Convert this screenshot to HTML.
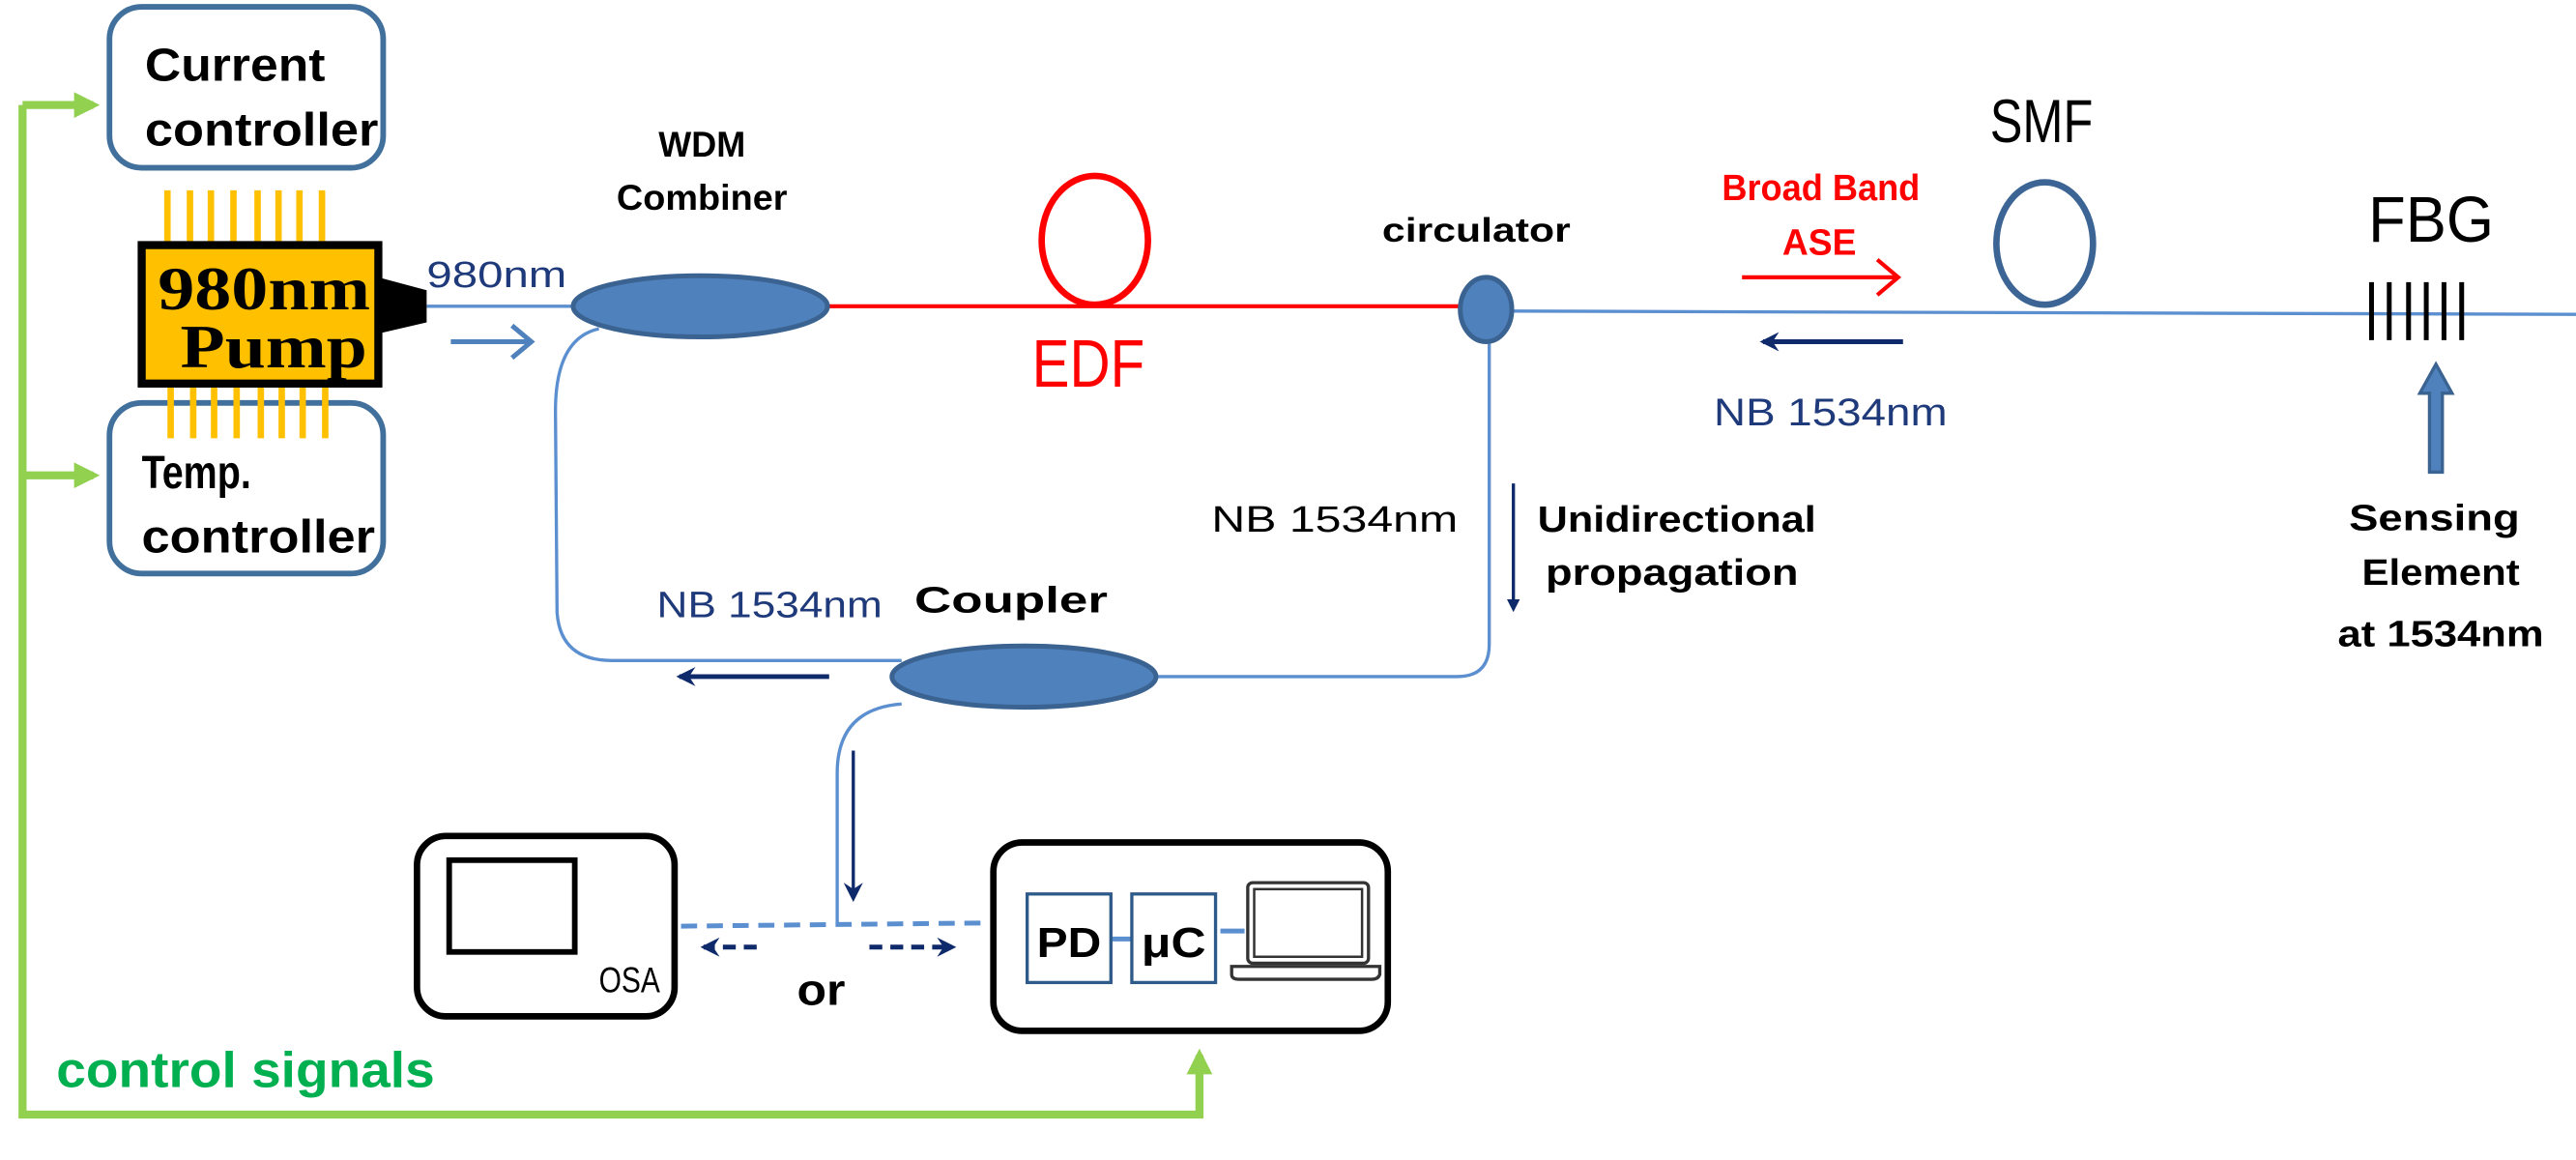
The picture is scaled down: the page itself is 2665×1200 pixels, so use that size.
<!DOCTYPE html>
<html><head><meta charset="utf-8"><style>
html,body{margin:0;padding:0;background:#fff;}
svg{display:block;}
text{font-family:"Liberation Sans",sans-serif;}
</style></head><body>
<svg width="2665" height="1200" viewBox="0 0 1600 720" xmlns="http://www.w3.org/2000/svg">
<defs>
<marker id="nv" markerWidth="8" markerHeight="8" refX="6" refY="4" orient="auto" markerUnits="userSpaceOnUse"><path d="M0,0 L8,4 L0,8 Z" fill="#0f2a6b"/></marker>
<marker id="nvb" markerWidth="12" markerHeight="12" refX="10" refY="6" orient="auto" markerUnits="userSpaceOnUse"><path d="M0,0 L12,6 L0,12 L4,6 Z" fill="#0f2a6b"/></marker>
<marker id="gr" markerWidth="16" markerHeight="16" refX="12" refY="8" orient="auto" markerUnits="userSpaceOnUse"><path d="M0,0 L16,8 L0,16 Z" fill="#92d050"/></marker>
</defs>
<g stroke="#92d050" stroke-width="5" fill="none">
<path d="M14,65 L14,692 L745,692 L745,655" marker-end="url(#gr)"/>
<path d="M14,65 L58,65" marker-end="url(#gr)"/>
<path d="M14,295 L58,295" marker-end="url(#gr)"/>
</g>
<text x="35" y="675" font-size="31" font-weight="bold" fill="#00b050" textLength="235" lengthAdjust="spacingAndGlyphs">control signals</text>
<rect x="68" y="4" width="170" height="100" rx="20" fill="#fff" stroke="#41709c" stroke-width="3.5"/>
<text x="90" y="50" font-size="29" font-weight="bold" textLength="112" lengthAdjust="spacingAndGlyphs">Current</text>
<text x="90" y="90" font-size="29" font-weight="bold" textLength="145" lengthAdjust="spacingAndGlyphs">controller</text>
<rect x="68" y="250" width="170" height="106" rx="20" fill="#fff" stroke="#41709c" stroke-width="3.5"/>
<text x="88" y="303" font-size="29" font-weight="bold" textLength="68" lengthAdjust="spacingAndGlyphs">Temp.</text>
<text x="88" y="343" font-size="29" font-weight="bold" textLength="145" lengthAdjust="spacingAndGlyphs">controller</text>
<g stroke="#ffc000" stroke-width="4">
<path d="M104,118V150M118,118V150M131,118V150M145,118V150M160,118V150M173,118V150M186,118V150M200,118V150"/>
<path d="M106,240V272M120,240V272M133,240V272M147,240V272M162,240V272M175,240V272M188,240V272M202,240V272"/>
</g>
<rect x="88" y="152" width="147" height="86" fill="#ffc000" stroke="#000" stroke-width="5"/>
<path d="M235,172 L265,180 L265,200 L235,207 Z" fill="#000"/>
<text x="98" y="192" font-size="38" font-weight="bold" textLength="132" lengthAdjust="spacingAndGlyphs" style="font-family:'Liberation Serif',serif">980nm</text>
<text x="112" y="228" font-size="38" font-weight="bold" textLength="116" lengthAdjust="spacingAndGlyphs" style="font-family:'Liberation Serif',serif">Pump</text>
<text x="265" y="178" font-size="23" fill="#1f3a7a" textLength="87" lengthAdjust="spacingAndGlyphs">980nm</text>
<path d="M280,212 L328,212" stroke="#4f81bd" stroke-width="3"/>
<path d="M318,202 L330,212 L318,222" stroke="#4f81bd" stroke-width="3" fill="none"/>
<g stroke="#5b8fd0" stroke-width="2" fill="none">
<path d="M265,190 L360,190"/>
<path d="M372,204 Q345,210 345,255 L346,380 Q348,410 380,410 L560,410"/>
<path d="M925,205 L925,400 Q925,420 905,420 L715,420"/>
<path d="M560,437 Q520,440 520,480 L520,575"/>
<path d="M940,193 L1600,195"/>
<path d="M758,578 L773,578" stroke-width="3"/>
<path d="M690,583 L703,583" stroke-width="3"/>
</g>
<path d="M423,575 L612,573" stroke="#5b8fd0" stroke-width="3" stroke-dasharray="10,6" fill="none"/>
<path d="M515,190 L906,190" stroke="#f00" stroke-width="2.5"/>
<ellipse cx="435" cy="190" rx="79" ry="19" fill="#4f81bd" stroke="#3b6391" stroke-width="3"/>
<text x="436" y="97" font-size="22" font-weight="bold" text-anchor="middle" textLength="54" lengthAdjust="spacingAndGlyphs">WDM</text>
<text x="436" y="130" font-size="22" font-weight="bold" text-anchor="middle" textLength="106" lengthAdjust="spacingAndGlyphs">Combiner</text>
<ellipse cx="680" cy="149" rx="33" ry="40" fill="none" stroke="#f00" stroke-width="4"/>
<text x="676" y="240" font-size="42" fill="#f00" text-anchor="middle" textLength="70" lengthAdjust="spacingAndGlyphs">EDF</text>
<ellipse cx="923" cy="192" rx="16" ry="20" fill="#4f81bd" stroke="#3b6391" stroke-width="3"/>
<text x="917" y="150" font-size="21" font-weight="bold" text-anchor="middle" textLength="117" lengthAdjust="spacingAndGlyphs">circulator</text>
<text x="1131" y="124" font-size="23" font-weight="bold" fill="#f00" text-anchor="middle" textLength="123" lengthAdjust="spacingAndGlyphs">Broad Band</text>
<text x="1130" y="158" font-size="23" font-weight="bold" fill="#f00" text-anchor="middle" textLength="46" lengthAdjust="spacingAndGlyphs">ASE</text>
<path d="M1082,172 L1178,172 M1166,161 L1179,172 L1166,183" stroke="#f00" stroke-width="2.5" fill="none"/>
<path d="M1182,212 L1095,212" stroke="#0f2a6b" stroke-width="3" marker-end="url(#nvb)"/>
<text x="1137" y="264" font-size="24" fill="#1f3a7a" text-anchor="middle" textLength="145" lengthAdjust="spacingAndGlyphs">NB 1534nm</text>
<ellipse cx="1270" cy="151" rx="30" ry="38" fill="none" stroke="#3c6595" stroke-width="4"/>
<text x="1268" y="88" font-size="38" text-anchor="middle" textLength="64" lengthAdjust="spacingAndGlyphs">SMF</text>
<text x="1510" y="150" font-size="40" text-anchor="middle" textLength="78" lengthAdjust="spacingAndGlyphs">FBG</text>
<g stroke="#000" stroke-width="3"><path d="M1473,175V211M1484,175V211M1496,175V211M1507,175V211M1518,175V211M1529,175V211"/></g>
<path d="M1509,293 L1509,244 L1503,244 L1513,226 L1523,244 L1517,244 L1517,293 Z" fill="#4f81bd" stroke="#3b6391" stroke-width="2"/>
<text x="1512" y="329" font-size="23" font-weight="bold" text-anchor="middle" textLength="106" lengthAdjust="spacingAndGlyphs">Sensing</text>
<text x="1516" y="363" font-size="23" font-weight="bold" text-anchor="middle" textLength="98" lengthAdjust="spacingAndGlyphs">Element</text>
<text x="1516" y="401" font-size="23" font-weight="bold" text-anchor="middle" textLength="128" lengthAdjust="spacingAndGlyphs">at 1534nm</text>
<text x="829" y="330" font-size="23" text-anchor="middle" textLength="153" lengthAdjust="spacingAndGlyphs">NB 1534nm</text>
<path d="M940,300 L940,378" stroke="#0f2a6b" stroke-width="2" marker-end="url(#nv)"/>
<text x="955" y="330" font-size="23" font-weight="bold" textLength="173" lengthAdjust="spacingAndGlyphs">Unidirectional</text>
<text x="960" y="363" font-size="23" font-weight="bold" textLength="157" lengthAdjust="spacingAndGlyphs">propagation</text>
<ellipse cx="636" cy="420" rx="82" ry="19" fill="#4f81bd" stroke="#3b6391" stroke-width="3"/>
<text x="628" y="380" font-size="23" font-weight="bold" text-anchor="middle" textLength="120" lengthAdjust="spacingAndGlyphs">Coupler</text>
<text x="478" y="383" font-size="23" fill="#1f3a7a" text-anchor="middle" textLength="140" lengthAdjust="spacingAndGlyphs">NB 1534nm</text>
<path d="M515,420 L422,420" stroke="#0f2a6b" stroke-width="3" marker-end="url(#nvb)"/>
<path d="M530,466 L530,558" stroke="#0f2a6b" stroke-width="2" marker-end="url(#nvb)"/>
<rect x="259" y="519" width="160" height="112" rx="18" fill="none" stroke="#000" stroke-width="4"/>
<rect x="279" y="534" width="78" height="57" fill="none" stroke="#000" stroke-width="3.5"/>
<text x="391" y="616" font-size="22" text-anchor="middle" textLength="38" lengthAdjust="spacingAndGlyphs">OSA</text>
<path d="M470,588 L437,588" stroke="#0f2a6b" stroke-width="3" stroke-dasharray="8,5" marker-end="url(#nvb)"/>
<path d="M540,588 L592,588" stroke="#0f2a6b" stroke-width="3" stroke-dasharray="8,5" marker-end="url(#nvb)"/>
<text x="510" y="624" font-size="27" font-weight="bold" text-anchor="middle" textLength="30" lengthAdjust="spacingAndGlyphs">or</text>
<rect x="617" y="523" width="245" height="117" rx="18" fill="none" stroke="#000" stroke-width="4"/>
<rect x="638" y="555" width="52" height="55" fill="none" stroke="#2e5a8a" stroke-width="2"/>
<text x="664" y="594" font-size="26" font-weight="bold" text-anchor="middle" textLength="40" lengthAdjust="spacingAndGlyphs">PD</text>
<rect x="703" y="555" width="52" height="55" fill="none" stroke="#2e5a8a" stroke-width="2"/>
<text x="729" y="594" font-size="26" font-weight="bold" text-anchor="middle" textLength="40" lengthAdjust="spacingAndGlyphs">μC</text>
<rect x="775" y="548" width="75" height="50" rx="3" fill="none" stroke="#333" stroke-width="2"/>
<rect x="779" y="552" width="67" height="42" fill="none" stroke="#333" stroke-width="1.5"/>
<path d="M765,600 L857,600 L857,605 Q856,608 852,608 L770,608 Q765,608 765,605 Z" fill="none" stroke="#333" stroke-width="2"/>
</svg>
</body></html>
